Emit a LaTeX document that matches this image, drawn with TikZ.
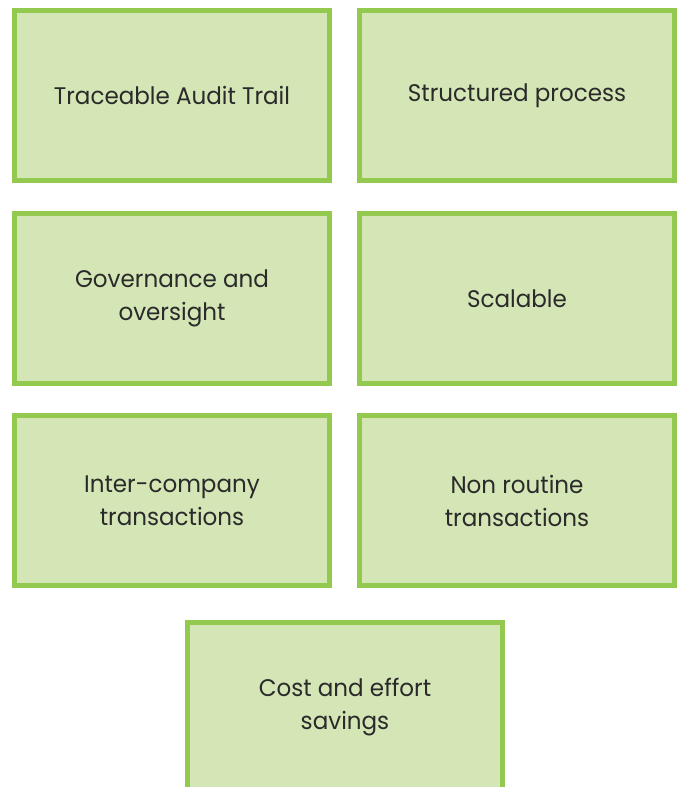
\documentclass[tikz,border=0pt]{standalone}
\usepackage{fontspec}
\setmainfont{Poppins}[FakeStretch=0.96]
\definecolor{boxfill}{HTML}{D4E6B6}
\definecolor{boxline}{HTML}{93C94F}
\definecolor{txt}{HTML}{2A2A2A}
\begin{document}
\begin{tikzpicture}[x=1pt,y=-1pt,
  card/.style={draw=boxline, fill=boxfill, line width=5pt, minimum width=315pt, minimum height=170pt,
    inner sep=0pt, align=center, text=txt, font=\fontsize{24}{33}\selectfont}]
\useasboundingbox (0,0) rectangle (681,787);
\node[card] (audit) at (172,95.5) {Traceable Audit Trail};
\node[card] (struct) at (517,95.5) {Structured process};
\node[card] (gov) at (172,298.5) {Governance and\\oversight};
\node[card] (scal) at (517,298.5) {Scalable};
\node[card] (inter) at (172,500.5) {Inter-company\\transactions};
\node[card] (nonr) at (517,500.5) {Non routine\\transactions};
\node[card] (cost) at (345,707.5) {Cost and effort\\savings};
\end{tikzpicture}
\end{document}
